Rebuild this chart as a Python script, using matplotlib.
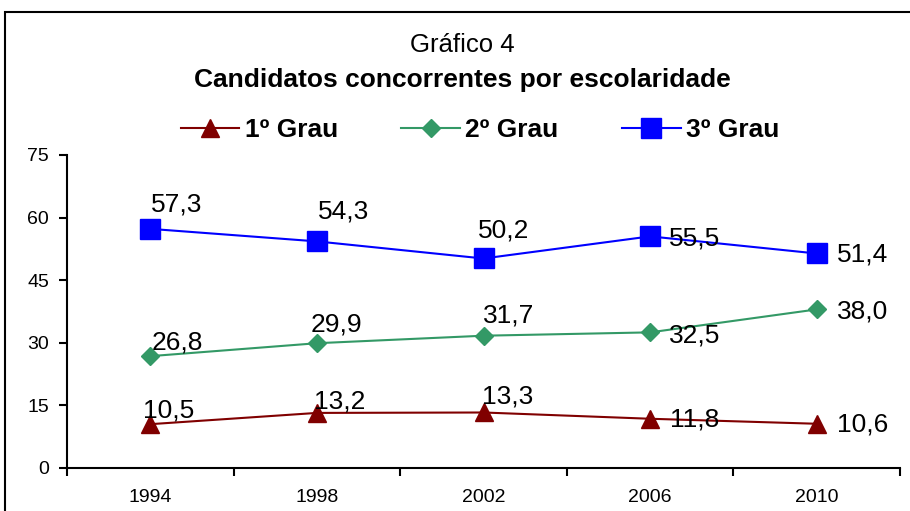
import matplotlib.pyplot as plt
from matplotlib.patches import Rectangle

years = ['1994', '1998', '2002', '2006', '2010']
grau1 = [10.5, 13.2, 13.3, 11.8, 10.6]
grau2 = [26.8, 29.9, 31.7, 32.5, 38.0]
grau3 = [57.3, 54.3, 50.2, 55.5, 51.4]
series_names = ['1º Grau', '2º Grau', '3º Grau']
y_ticks = [0, 15, 30, 45, 60, 75]


def fmt(v):
    return f'{v:.1f}'.replace('.', ',')


def main() -> None:
    plt.rcParams['font.family'] = ['Liberation Sans', 'DejaVu Sans']

    fig = plt.figure(figsize=(9.1, 5.11), dpi=100)
    ax = fig.add_axes([67 / 910, 1 - 468 / 511, 833 / 910, 313 / 511])

    # outer frame of the chart area
    fig.patches.append(Rectangle((5 / 910, -0.1), 1.2, 1 - 12 / 511 + 0.1,
                                 transform=fig.transFigure, fill=False,
                                 edgecolor='black', linewidth=1.5))

    x = list(range(len(years)))
    styles = [
        dict(color='#800000', marker='^', markersize=12.5),
        dict(color='#339966', marker='D', markersize=9),
        dict(color='#0000FF', marker='s', markersize=14),
    ]
    # label offsets (pixels) from point to text baseline-left
    offsets = [
        [(-7, 7), (-3, 4), (-1, 9), (20, -8), (20, -8)],
        [(1, 7), (-6, 12), (-1, 13), (19, -10), (20, -9)],
        [(1, 17), (1, 23), (-6, 21), (19, -9), (20, -8)],
    ]

    for vals, name, st, offs in zip([grau1, grau2, grau3], series_names, styles, offsets):
        ax.plot(x, vals, linewidth=1.5, label=name, **st)
        for xi, v, (dx, dy) in zip(x, vals, offs):
            ax.annotate(fmt(v), (xi, v), xytext=(dx, dy), textcoords='offset pixels',
                        ha='left', va='baseline', fontsize=19)

    ax.set_xlim(-0.5, len(years) - 0.5)
    ax.set_ylim(0, 75)
    ax.set_yticks(y_ticks)
    ax.set_xticks(x)
    ax.set_xticklabels(years)
    ax.set_xticks([i - 0.5 for i in range(len(years) + 1)], minor=True)
    ax.tick_params(axis='x', which='major', length=0, pad=15, labelsize=14)
    ax.tick_params(axis='x', which='minor', length=6, width=1.5, direction='out')
    ax.tick_params(axis='y', length=6, width=1.5, direction='out', labelsize=14, pad=7)

    for side in ('top', 'right'):
        ax.spines[side].set_visible(False)
    for side in ('left', 'bottom'):
        ax.spines[side].set_linewidth(1.5)

    fig.text(462 / 910, 1 - 45 / 511, 'Gráfico 4', ha='center', va='center', fontsize=18.5)
    fig.text(462 / 910, 1 - 80 / 511, 'Candidatos concorrentes por escolaridade',
             ha='center', va='center', fontsize=19, fontweight='bold')

    fig.legend(loc='center', bbox_to_anchor=(480 / 910, 1 - 130 / 511), ncol=3,
               frameon=False, prop={'size': 19, 'weight': 'bold'},
               handlelength=2.23, handletextpad=0.2, columnspacing=2.4)

    plt.savefig('out.png', dpi=100)


if __name__ == '__main__':
    main()
